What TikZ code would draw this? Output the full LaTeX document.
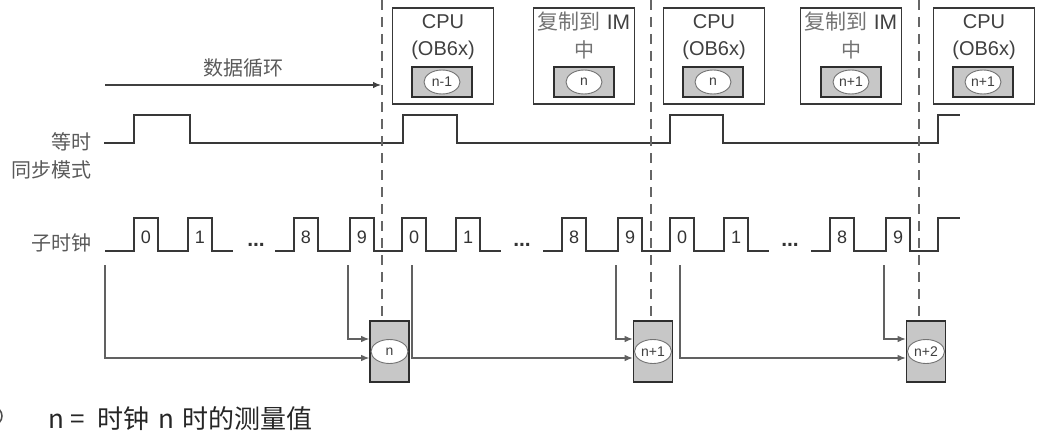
\documentclass[tikz,border=0pt]{standalone}
\usepackage{fontspec}
\setmainfont{Liberation Sans}
\newfontfamily\cjk{Noto Sans CJK SC}
\usetikzlibrary{shapes.geometric,arrows.meta}

\tikzset{
  wave/.style={line width=1.9pt, draw=black!78},
  cycleline/.style={dash pattern=on 10pt off 7pt, line width=1.1pt, draw=black!60},
  feed/.style={line width=1.1pt, draw=black!62, -{Latex[length=8pt,width=6.5pt]}},
  obbox/.style={draw=black!78, line width=1.9pt, minimum width=101pt, minimum height=96pt, inner sep=0pt},
  valbox/.style={draw=black!82, fill=black!22, line width=1.6pt, minimum width=60pt, minimum height=30pt, inner sep=0pt},
  valoval/.style={ellipse, draw=black!55, fill=white, line width=0.9pt, minimum width=36pt, minimum height=24pt, inner sep=0pt, font=\fontsize{14}{14}\selectfont, text=black!75},
  accbox/.style={draw=black!82, fill=black!22, line width=1.6pt, minimum width=39pt, minimum height=61pt, inner sep=0pt},
  boxtext/.style={font=\fontsize{20}{20}\selectfont, text=black!75},
  sidetext/.style={font=\cjk\fontsize{20}{20}\selectfont, text=black!65, anchor=east},
  digit/.style={font=\fontsize{18}{18}\selectfont, text=black!80},
}

\begin{document}
\begin{tikzpicture}[x=1pt,y=-1pt]
\useasboundingbox (0,0) rectangle (1043,441);

% OB6x / copy boxes at the top
\node[obbox] (cpuA) at (443,56) {};
\node[boxtext] (cpuAt) at (443,22) {CPU};
\node[boxtext] (cpuAs) at (443,50) {(OB6x)};
\node[valbox] (cpuAv) at (442,82) {};
\node[valoval] (cpuAo) at (cpuAv) {n-1};

\node[obbox] (imA) at (584,56) {};
\node[boxtext, font=\fontsize{21}{21}\selectfont] (imAt) at (584,22) {{\cjk\color{black!55}复制到} IM};
\node[boxtext, font=\cjk\fontsize{20}{20}\selectfont, text=black!55] (imAs) at (584,50) {中};
\node[valbox] (imAv) at (584,82) {};
\node[valoval] (imAo) at (imAv) {n};

\node[obbox] (cpuB) at (714,56) {};
\node[boxtext] (cpuBt) at (714,22) {CPU};
\node[boxtext] (cpuBs) at (714,50) {(OB6x)};
\node[valbox] (cpuBv) at (713,82) {};
\node[valoval] (cpuBo) at (cpuBv) {n};

\node[obbox] (imB) at (851,56) {};
\node[boxtext, font=\fontsize{21}{21}\selectfont] (imBt) at (851,22) {{\cjk\color{black!55}复制到} IM};
\node[boxtext, font=\cjk\fontsize{20}{20}\selectfont, text=black!55] (imBs) at (851,50) {中};
\node[valbox] (imBv) at (851,82) {};
\node[valoval] (imBo) at (imBv) {n+1};

\node[obbox] (cpuC) at (984,56) {};
\node[boxtext] (cpuCt) at (984,22) {CPU};
\node[boxtext] (cpuCs) at (984,50) {(OB6x)};
\node[valbox] (cpuCv) at (983,82) {};
\node[valoval] (cpuCo) at (cpuCv) {n+1};

% data cycle
\coordinate (dcs) at (105,85);
\coordinate (dce) at (381,85);
\draw[feed, draw=black!75] (dcs) -- (dce) node[midway, above=4pt, font=\cjk\fontsize{20}{20}\selectfont, text=black!65] (dcl) {数据循环};

% side labels
\node[sidetext] (isoA) at (95,142) {等时};
\node[sidetext] (isoB) at (95,170) {同步模式};
\node[sidetext] (clk) at (95,243) {子时钟};

% isochronous mode
\draw[wave] (104,143) -- (134,143) -- (134,115) -- (190,115) -- (190,143) -- (403,143) -- (403,115) -- (457,115) -- (457,143)
  -- (670,143) -- (670,115) -- (723,115) -- (723,143) -- (938,143) -- (938,115) -- (960,115);

% sub clock
\draw[wave] (105,251) -- (134,251) -- (134,218) -- (158,218) -- (158,251) -- (188,251) -- (188,218) -- (212,218) -- (212,251) -- (233,251);
\draw[wave] (275,251) -- (294,251) -- (294,218) -- (318,218) -- (318,251) -- (350,251) -- (350,218) -- (374,218) -- (374,251)
  -- (402,251) -- (402,218) -- (426,218) -- (426,251) -- (456,251) -- (456,218) -- (480,218) -- (480,251) -- (501,251);
\draw[wave] (543,251) -- (562,251) -- (562,218) -- (586,218) -- (586,251) -- (618,251) -- (618,218) -- (642,218) -- (642,251)
  -- (670,251) -- (670,218) -- (694,218) -- (694,251) -- (724,251) -- (724,218) -- (748,218) -- (748,251) -- (769,251);
\draw[wave] (811,251) -- (830,251) -- (830,218) -- (854,218) -- (854,251) -- (886,251) -- (886,218) -- (910,218) -- (910,251)
  -- (938,251) -- (938,218) -- (960,218);

\node[digit] (d0a) at (146,237) {0};
\node[digit] (d1a) at (200,237) {1};
\node[digit] (d8a) at (306,237) {8};
\node[digit] (d9a) at (362,237) {9};
\node[digit] (d0b) at (414,237) {0};
\node[digit] (d1b) at (468,237) {1};
\node[digit] (d8b) at (574,237) {8};
\node[digit] (d9b) at (630,237) {9};
\node[digit] (d0c) at (682,237) {0};
\node[digit] (d1c) at (736,237) {1};
\node[digit] (d8c) at (842,237) {8};
\node[digit] (d9c) at (898,237) {9};

\node[digit, font=\bfseries\fontsize{21}{21}\selectfont] (gapA) at (256,245) {...};
\node[digit, font=\bfseries\fontsize{21}{21}\selectfont] (gapB) at (522,245) {...};
\node[digit, font=\bfseries\fontsize{21}{21}\selectfont] (gapC) at (790,245) {...};

% measured values
\node[accbox] (acc1) at (389.5,351.5) {};
\node[valoval, minimum width=37pt] (m1) at (acc1) {n};
\node[accbox] (acc2) at (653,351.5) {};
\node[valoval, minimum width=37pt] (m2) at (acc2) {n+1};
\node[accbox] (acc3) at (926,351.5) {};
\node[valoval, minimum width=37pt] (m3) at (acc3) {n+2};

% cycle borders
\coordinate (tA) at (382,0);
\coordinate (tB) at (651,0);
\coordinate (tC) at (919,0);
\draw[cycleline] (tA) -- (tA |- acc1.north);
\draw[cycleline] (tB) -- (tB |- acc2.north);
\draw[cycleline] (tC) -- (tC |- acc3.north);

% clock to value
\coordinate (c0a) at (105,265);
\coordinate (c9a) at (348,265);
\coordinate (c0b) at (412,265);
\coordinate (c9b) at (616,265);
\coordinate (c0c) at (680,265);
\coordinate (c9c) at (884,265);
\draw[feed] (c0a) |- ([yshift=-6.5pt]acc1.west);
\draw[feed] (c9a) |- ([yshift=12.5pt]acc1.west);
\draw[feed] (c0b) |- ([yshift=-6.5pt]acc2.west);
\draw[feed] (c9b) |- ([yshift=12.5pt]acc2.west);
\draw[feed] (c0c) |- ([yshift=-6.5pt]acc3.west);
\draw[feed] (c9c) |- ([yshift=12.5pt]acc3.west);

% legend
\draw[line width=1.5pt, black!70] (-7,416) circle (9);
\node[anchor=west, font=\cjk\fontsize{26}{26}\selectfont, text=black!85] (legend) at (45,419) {n = \hspace{7pt}时钟 \hspace{3pt}n \hspace{3pt}时的测量值};
\end{tikzpicture}
\end{document}
